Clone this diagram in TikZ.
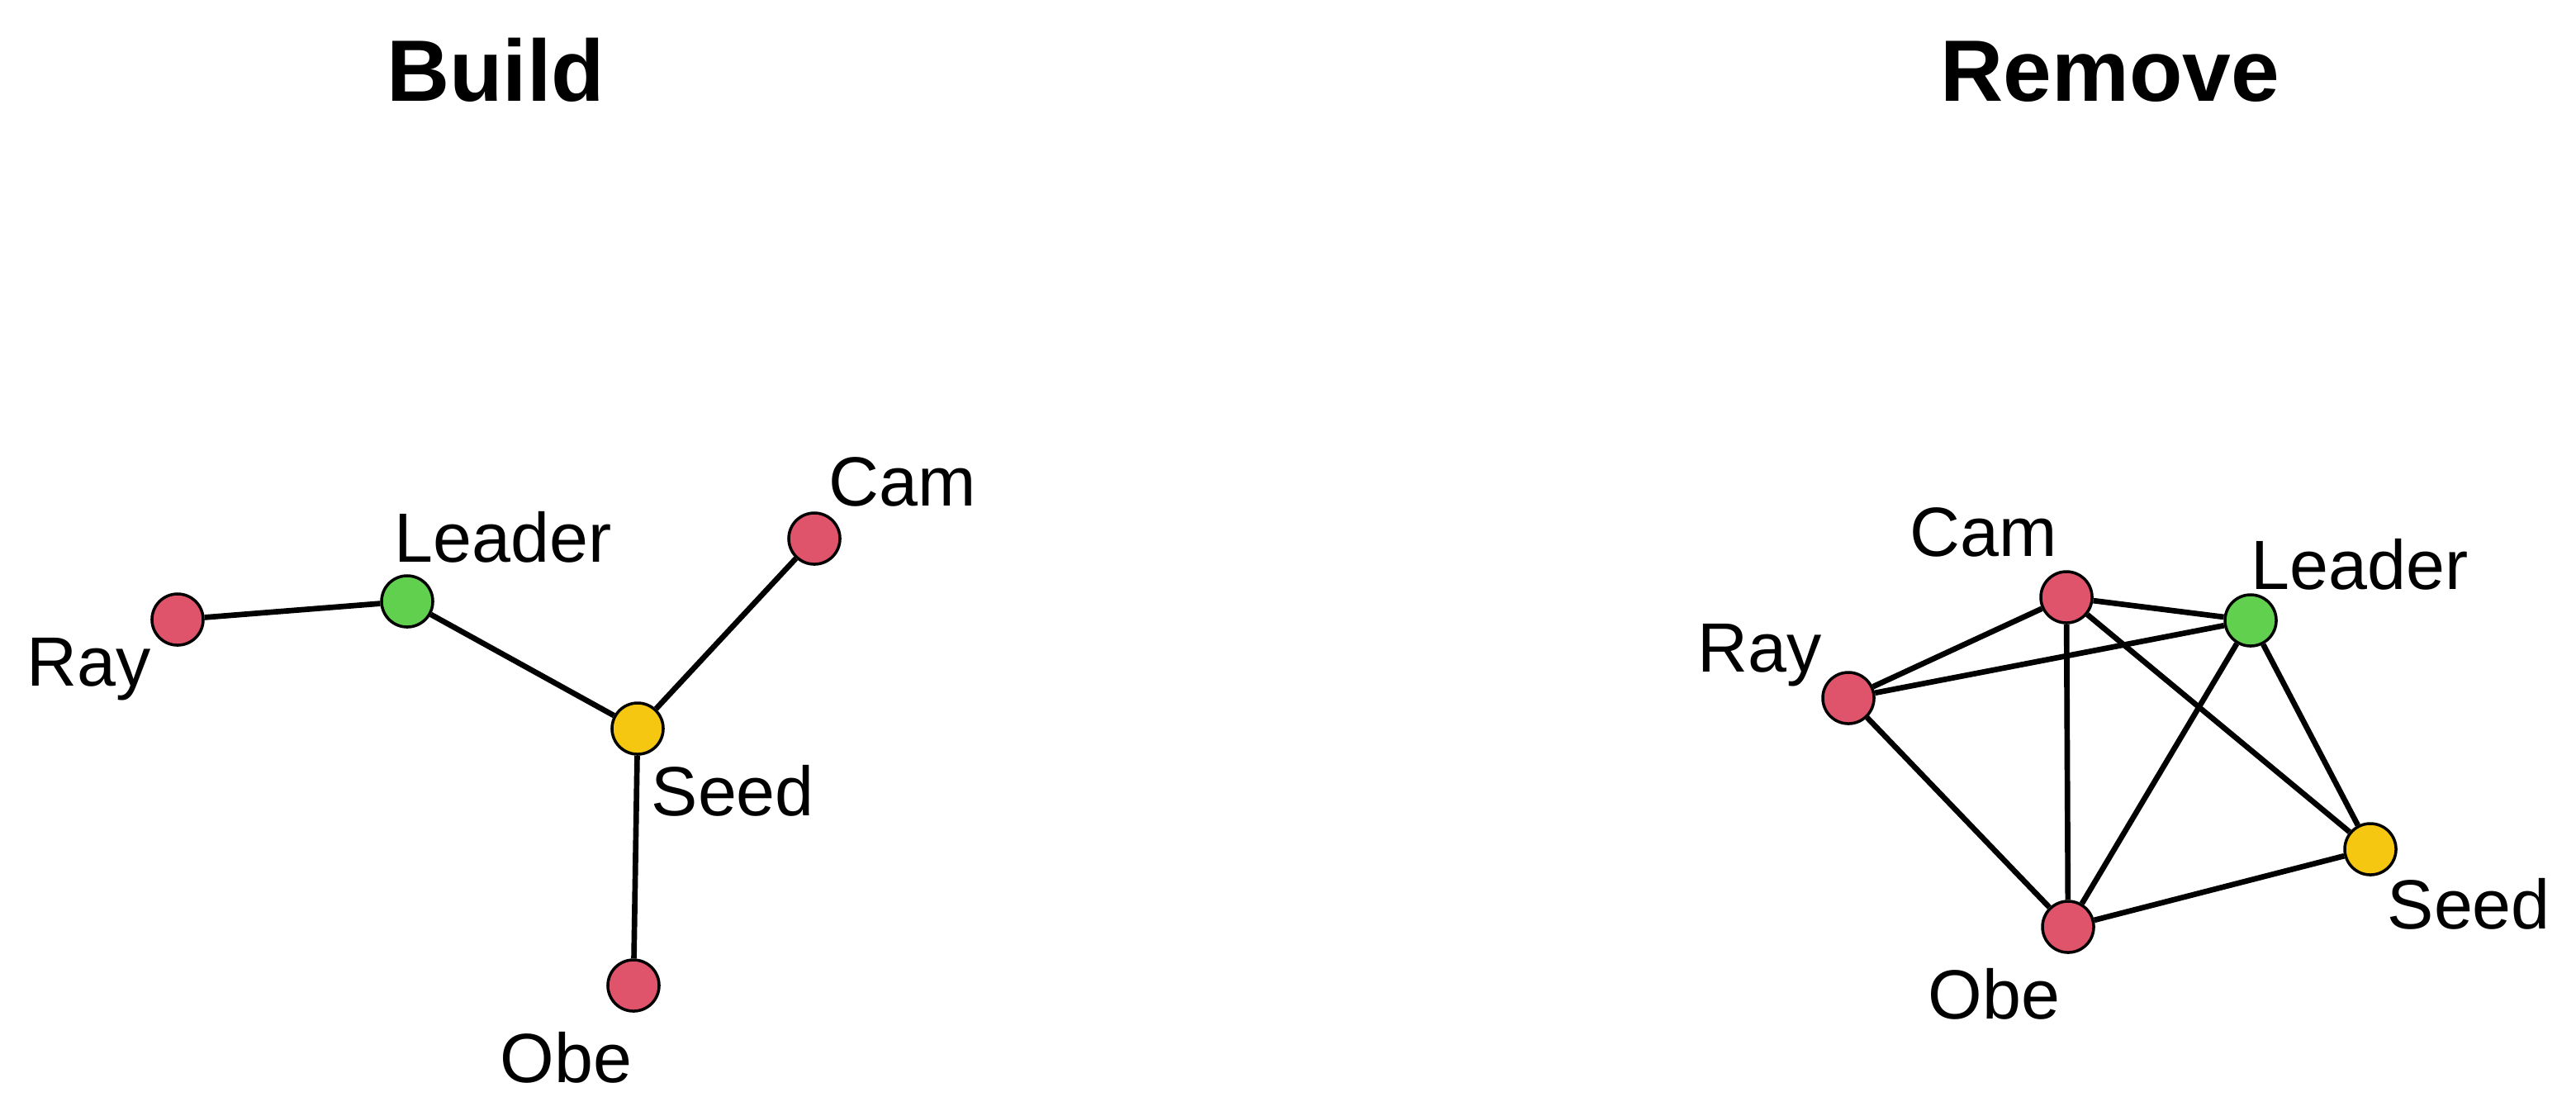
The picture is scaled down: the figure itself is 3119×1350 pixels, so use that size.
\documentclass[tikz,border=0pt]{standalone}
\usepackage{fontspec}
\setmainfont{Liberation Sans}
\begin{document}
\begin{tikzpicture}[x=0.01cm,y=-0.01cm,
  vertex/.style={circle,draw=black,line width=1pt,minimum size=0.62cm,inner sep=0pt},
  redv/.style={vertex,fill=vred},
  greenv/.style={vertex,fill=vgreen},
  yellowv/.style={vertex,fill=vyellow},
  lbl/.style={anchor=base west,inner sep=0pt,font=\fontsize{24}{28}\selectfont},
  ttl/.style={anchor=base,inner sep=0pt,font=\fontsize{30}{36}\selectfont\bfseries},
  edge/.style={line width=1.9pt,black}]
\definecolor{vred}{HTML}{DF536B}
\definecolor{vgreen}{HTML}{61D04F}
\definecolor{vyellow}{HTML}{F5C710}
\useasboundingbox (0,0) rectangle (3119,1350);
% titles
\node[ttl] (tbuild) at (600,122) {Build};
\node[ttl] (tremove) at (2555,122) {Remove};
% Build graph
\node[redv] (bray) at (215,750) {};
\node[greenv] (bleader) at (493,728) {};
\node[redv] (bcam) at (986,652) {};
\node[yellowv] (bseed) at (772,882) {};
\node[redv] (bobe) at (767,1193) {};
\draw[edge] (bray) -- (bleader);
\draw[edge] (bleader) -- (bseed);
\draw[edge] (bseed) -- (bcam);
\draw[edge] (bseed) -- (bobe);
\node[lbl] (lbray) at (32,830) {Ray};
\node[lbl] (lbleader) at (477,680) {Leader};
\node[lbl] (lbcam) at (1003,612) {Cam};
\node[lbl] (lbseed) at (788,987) {Seed};
\node[lbl] (lbobe) at (605,1310) {Obe};
% Remove graph
\node[redv] (rcam) at (2502,723) {};
\node[greenv] (rleader) at (2725,751) {};
\node[redv] (rray) at (2238,845) {};
\node[yellowv] (rseed) at (2870,1028) {};
\node[redv] (robe) at (2504,1122) {};
\draw[edge] (rray) -- (rcam);
\draw[edge] (rray) -- (rleader);
\draw[edge] (rray) -- (robe);
\draw[edge] (rcam) -- (rleader);
\draw[edge] (rcam) -- (robe);
\draw[edge] (rcam) -- (rseed);
\draw[edge] (rleader) -- (robe);
\draw[edge] (rleader) -- (rseed);
\draw[edge] (robe) -- (rseed);
\node[lbl] (lrcam) at (2312,673) {Cam};
\node[lbl] (lrleader) at (2725,713) {Leader};
\node[lbl] (lrray) at (2055,813) {Ray};
\node[lbl] (lrseed) at (2890,1124) {Seed};
\node[lbl] (lrobe) at (2334,1233) {Obe};
\end{tikzpicture}
\end{document}
